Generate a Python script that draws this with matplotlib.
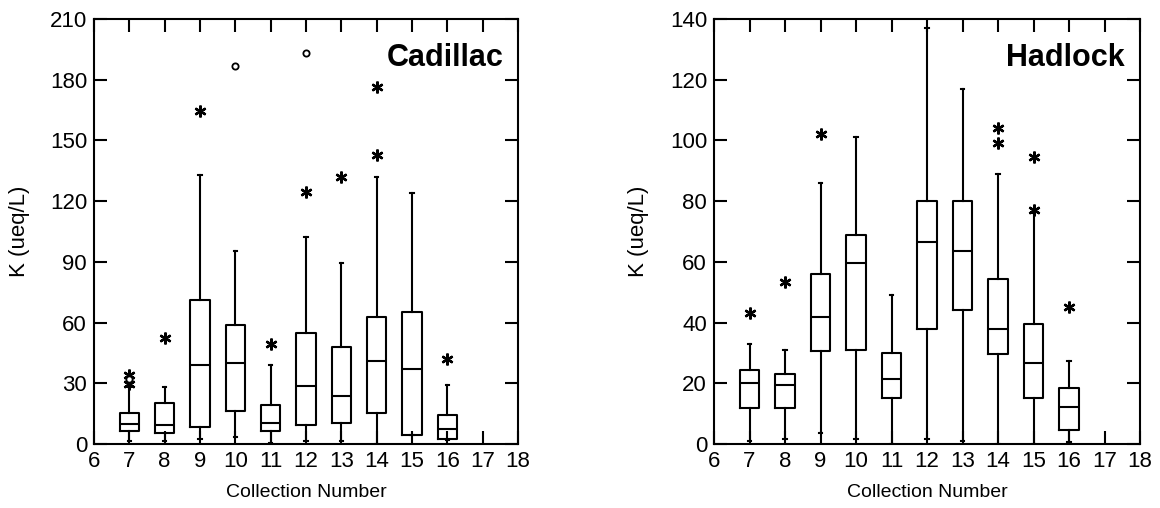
import matplotlib
matplotlib.use("Agg")
import matplotlib.pyplot as plt

plt.rcParams['font.family'] = ['Liberation Sans', 'DejaVu Sans']

# collection numbers that have a box
positions = [7, 8, 9, 10, 11, 12, 13, 14, 15, 16]

# Cadillac
cad_whislo = [1.5, 1.5, 2.5, 3.5, 0.5, 1.5, 1.5, 0, 4.5, 2]
cad_q1 = [6.5, 5.5, 8.5, 16.5, 6.5, 9.5, 10.5, 15.5, 4.5, 2.5]
cad_med = [10, 9.5, 39, 40, 10.5, 28.5, 23.5, 41, 37, 7.5]
cad_q3 = [15.5, 20.5, 71, 59, 19.5, 55, 48, 63, 65, 14.5]
cad_whishi = [28, 28, 133, 95.5, 39, 102.5, 89.5, 132, 124, 29]
cad_star = [[29.5, 34], [52.5], [164.5], [], [49.5], [124.5], [132], [143, 176.5], [], [42]]
cad_circle = [[32], [], [], [187], [], [193], [], [], [], []]

# Hadlock
had_whislo = [1, 1.5, 3.5, 1.5, 0, 1.5, 1, 0, 0, 0.5]
had_q1 = [12, 12, 30.5, 31, 15, 38, 44, 29.5, 15, 4.5]
had_med = [20, 19.5, 42, 59.5, 21.5, 66.5, 63.7, 38, 26.7, 12.3]
had_q3 = [24.5, 23, 56, 69, 30, 80, 80, 54.5, 39.5, 18.5]
had_whishi = [33, 31, 86, 101, 49, 137, 117, 89, 76, 27.5]
had_star = [[43], [53.5], [102], [], [], [], [], [99.3, 104], [77, 94.5], [45]]
had_circle = [[], [], [], [], [], [], [], [], [], []]

x_ticks = list(range(6, 19))


def draw_panel(ax, whislo, q1, med, q3, whishi, star, circle, ymax, ystep, name):
    stats = []
    for i in range(len(positions)):
        stats.append({'whislo': whislo[i], 'q1': q1[i], 'med': med[i],
                      'q3': q3[i], 'whishi': whishi[i], 'fliers': star[i]})
    lw = 1.5
    ax.bxp(stats, positions=positions, widths=0.55, capwidths=0.1,
           boxprops=dict(color='black', linewidth=lw),
           whiskerprops=dict(color='black', linewidth=lw),
           capprops=dict(color='black', linewidth=lw),
           medianprops=dict(color='black', linewidth=lw),
           flierprops=dict(marker=(6, 2, 0), markersize=8.5, markeredgewidth=1.7,
                           markeredgecolor='black', linestyle='none'),
           manage_ticks=False)
    for p, vals in zip(positions, circle):
        if vals:
            ax.plot([p] * len(vals), vals, 'o', markersize=4.5, markerfacecolor='white',
                    markeredgecolor='black', markeredgewidth=1.3)

    ax.set_xlim(6, 18)
    ax.set_ylim(0, ymax)
    ax.set_xticks(x_ticks)
    ax.set_yticks(range(0, ymax + 1, ystep))
    ax.tick_params(direction='in', top=True, right=True, length=9.5, width=1.5,
                   labelsize=16, pad=5)
    for s in ax.spines.values():
        s.set_linewidth(1.5)
    ax.set_xlabel('Collection Number', fontsize=14)
    ax.xaxis.set_label_coords(0.5, -0.095)
    ax.set_ylabel('K (ueq/L)', fontsize=16)
    ax.yaxis.set_label_coords(-0.152, 0.5)
    ax.text(0.965, 0.908, name, transform=ax.transAxes, ha='right', va='center',
            fontsize=22, fontweight='bold')


fig = plt.figure(figsize=(11.6, 5.08), dpi=100)
ax1 = fig.add_axes([94 / 1160, 64 / 508, 424 / 1160, 425 / 508])
ax2 = fig.add_axes([714 / 1160, 64 / 508, 426 / 1160, 425 / 508])

draw_panel(ax1, cad_whislo, cad_q1, cad_med, cad_q3, cad_whishi, cad_star, cad_circle,
           210, 30, 'Cadillac')
draw_panel(ax2, had_whislo, had_q1, had_med, had_q3, had_whishi, had_star, had_circle,
           140, 20, 'Hadlock')

fig.savefig('out.png', dpi=100)
